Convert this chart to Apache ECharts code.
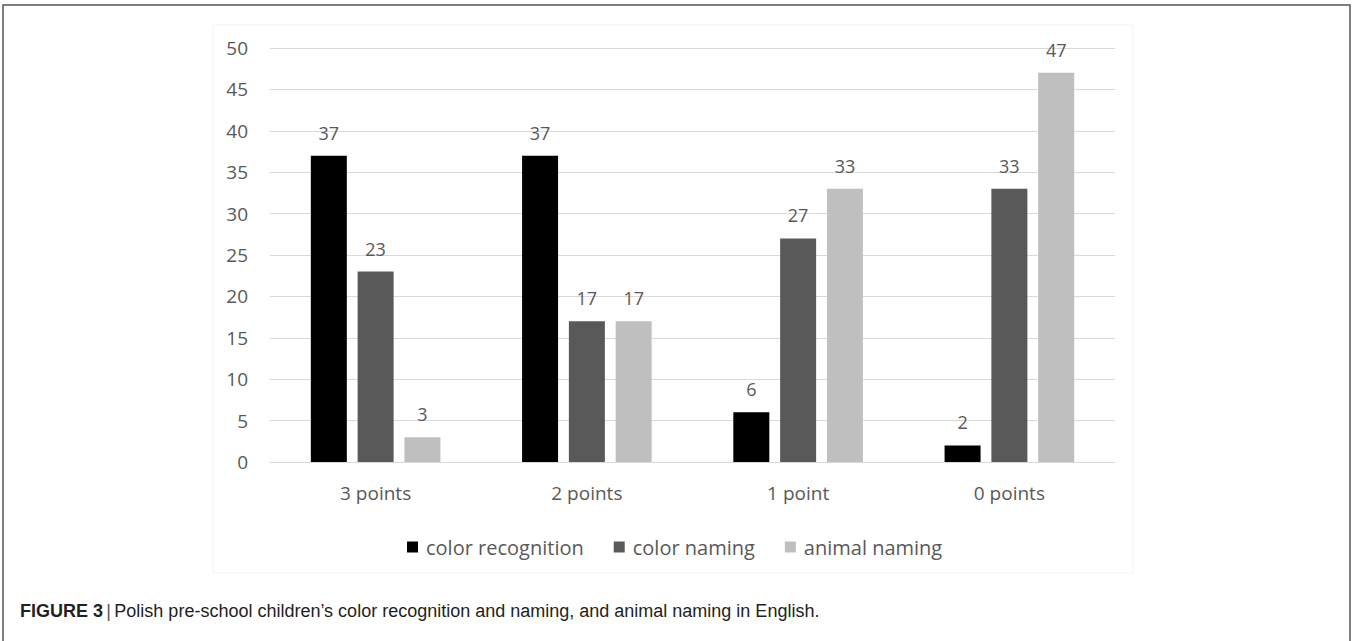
<!DOCTYPE html>
<html>
<head>
<meta charset="utf-8">
<script src="https://cdn.jsdelivr.net/npm/echarts@6/dist/echarts.min.js"></script>
<style>
html,body{margin:0;padding:0;background:#fff;}
#chart{width:1352px;height:641px;}
</style>
</head>
<body>
<div id="chart"></div>
<script>
const categories = ['3 points', '2 points', '1 point', '0 points'];
const colorRecognition = [37, 37, 6, 2];
const colorNaming = [23, 17, 27, 33];
const animalNaming = [3, 17, 33, 47];
const yTicks = [0, 5, 10, 15, 20, 25, 30, 35, 40, 45, 50];
const seriesNames = ['color recognition', 'color naming', 'animal naming'];
const seriesColors = ['#000000', '#595959', '#bfbfbf'];

const textColor = '#595959';
const font = '"Open Sans", sans-serif';

const chart = echarts.init(document.getElementById('chart'), null, {renderer: 'svg'});

const values = [colorRecognition, colorNaming, animalNaming];
const series = seriesNames.map((name, i) => ({
  name: name,
  type: 'bar',
  data: values[i],
  barWidth: 36,
  barGap: '30%',
  itemStyle: {color: seriesColors[i]},
  label: {
    show: true,
    position: 'top',
    distance: 14,
    color: textColor,
    fontFamily: font,
    fontSize: 18
  }
}));

chart.setOption({
  animation: false,
  backgroundColor: '#ffffff',
  grid: {left: 270, right: 237, top: 48, bottom: 179, containLabel: false},
  legend: {
    data: seriesNames,
    left: 402,
    top: 532,
    itemWidth: 11,
    itemHeight: 11,
    itemGap: 30,
    icon: 'rect',
    textStyle: {color: textColor, fontFamily: font, fontSize: 20, padding: [0, 0, 0, 3]}
  },
  xAxis: {
    type: 'category',
    data: categories,
    axisLine: {show: true, lineStyle: {color: '#d9d9d9', width: 1}},
    axisTick: {show: false},
    axisLabel: {color: textColor, fontFamily: font, fontSize: 19, margin: 21}
  },
  yAxis: {
    type: 'value',
    min: yTicks[0],
    max: yTicks[yTicks.length - 1],
    interval: yTicks[1] - yTicks[0],
    axisLine: {show: false},
    axisTick: {show: false},
    splitLine: {lineStyle: {color: '#d9d9d9', width: 1}},
    axisLabel: {color: textColor, fontFamily: font, fontSize: 19, margin: 22}
  },
  series: series,
  graphic: [
    {
      type: 'rect',
      shape: {x: 213, y: 25, width: 920, height: 548},
      style: {fill: 'none', stroke: '#f3f3f3', lineWidth: 1},
      silent: true,
      z: -1
    },
    {
      type: 'polyline',
      shape: {points: [[3, 641], [3, 5], [1350, 5], [1350, 641]]},
      style: {fill: 'none', stroke: '#555555', lineWidth: 1.5},
      silent: true
    },
    {
      type: 'text',
      left: 20,
      top: 602,
      style: {
        text: '{b|FIGURE 3} {s||} {r|Polish pre-school children\u2019s color recognition and naming, and animal naming in English.}',
        rich: {
          b: {fontFamily: '"Liberation Sans", Arial, sans-serif', fontWeight: 'bold', fontSize: 18, fill: '#231f20'},
          s: {fontFamily: '"Liberation Sans", Arial, sans-serif', fontSize: 18, fill: '#555555'},
          r: {fontFamily: '"Liberation Sans", Arial, sans-serif', fontSize: 18, fill: '#231f20'}
        }
      }
    }
  ]
});
</script>
</body>
</html>
